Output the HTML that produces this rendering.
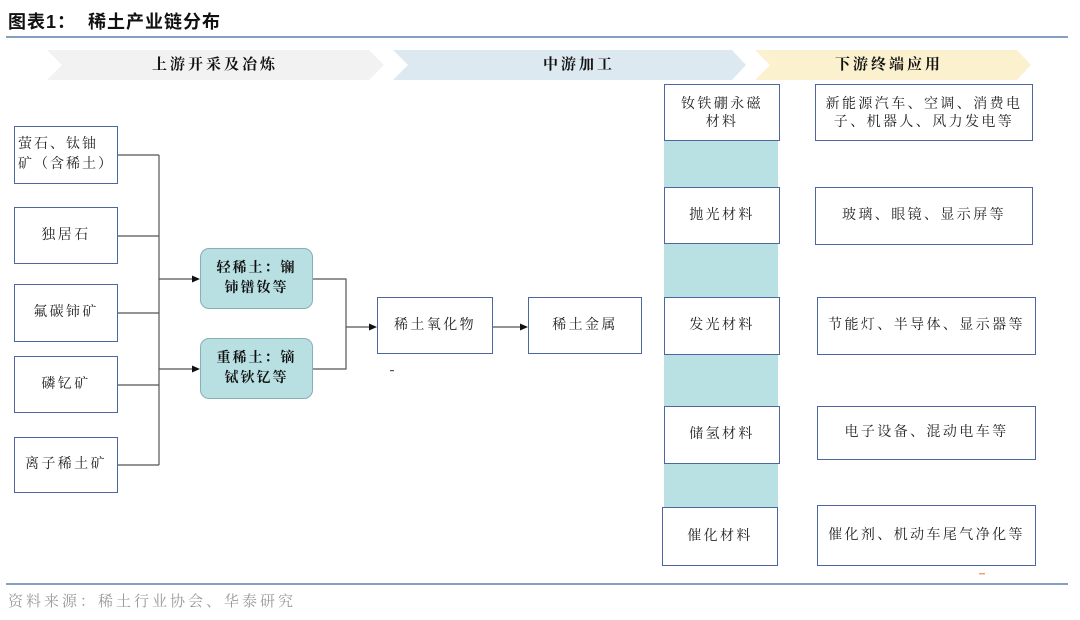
<!DOCTYPE html>
<html><head><meta charset="utf-8">
<style>
*{margin:0;padding:0;box-sizing:border-box}
body{width:1080px;height:620px;background:#fff;position:relative;overflow:hidden;font-family:"Liberation Serif","Noto Serif CJK SC",serif;color:#222}
.t{position:absolute;left:8px;top:9px;font-family:"Liberation Sans","Noto Sans CJK SC",sans-serif;font-weight:bold;font-size:18px;line-height:26px;color:#111;letter-spacing:1px;white-space:nowrap}
.hl{position:absolute;left:6px;width:1062px;height:2px;background:#86a0c2}
.b{position:absolute;border:1.5px solid #4d66a0;background:#fff;display:flex;align-items:center;justify-content:center;text-align:center;font-size:14px;line-height:18px;letter-spacing:2.4px;color:#222}
.tb{position:absolute;border:1.5px solid #86b0b5;background:#b8dfe2;border-radius:9px;display:flex;align-items:center;justify-content:center;text-align:center;font-size:14px;font-weight:bold;line-height:20px;letter-spacing:2px;color:#111}
.ct{position:absolute;font-size:15px;font-weight:bold;letter-spacing:3px;line-height:20px;top:55px;color:#111;white-space:nowrap}
.src{position:absolute;left:8px;top:590px;font-size:15px;color:#9a9a9a;letter-spacing:3px;white-space:nowrap}
</style></head><body>
<div class="t">图表1：&nbsp;&nbsp;稀土产业链分布</div>
<div class="hl" style="top:36px"></div>

<svg width="1080" height="620" style="position:absolute;left:0;top:0">
  <polygon points="47,50 369,50 384,65 369,80 47,80 62,65" fill="#f2f2f2"/>
  <polygon points="393,50 732,50 746,65 732,80 393,80 408,65" fill="#dde9f0"/>
  <polygon points="755,50 1017,50 1031,65 1017,80 755,80 770,65" fill="#fcf1cf"/>
  <rect x="664" y="141" width="114" height="367" fill="#b9e0e3"/>
  <g stroke="#555" stroke-width="1.2" fill="none">
    <path d="M118,155 H159 M118,236 H159 M118,313 H159 M118,385 H159 M118,465 H159 M159,155 V465"/>
    <path d="M159,279 H193 M159,369 H193"/>
    <path d="M313,279 H346 V369 H313 M346,327 H370"/>
    <path d="M493,327 H520"/>
  </g>
  <g fill="#111">
    <polygon points="200,279 192,275.5 192,282.5"/>
    <polygon points="200,369 192,365.5 192,372.5"/>
    <polygon points="377,327 369,323.5 369,330.5"/>
    <polygon points="528,327 520,323.5 520,330.5"/>
  </g>
  <rect x="390" y="370" width="4" height="1.2" fill="#555"/>
  <rect x="979" y="573" width="6" height="1.5" fill="#f4a070"/>
</svg>

<div class="ct" style="left:152px">上游开采及冶炼</div>
<div class="ct" style="left:543px">中游加工</div>
<div class="ct" style="left:835px">下游终端应用</div>

<div class="b" style="left:14px;top:126px;width:104px;height:58px;justify-content:flex-start;text-align:left;padding-left:3px;letter-spacing:2px;line-height:20px">萤石、钛铀<br>矿（含稀土）</div>
<div class="b" style="left:14px;top:207px;width:104px;height:57px">独居石</div>
<div class="b" style="left:14px;top:284px;width:104px;height:58px">氟碳铈矿</div>
<div class="b" style="left:14px;top:356px;width:104px;height:57px">磷钇矿</div>
<div class="b" style="left:14px;top:437px;width:104px;height:56px">离子稀土矿</div>

<div class="tb" style="left:200px;top:248px;width:113px;height:61px">轻稀土：镧<br>铈镨钕等</div>
<div class="tb" style="left:200px;top:338px;width:113px;height:61px">重稀土：镝<br>铽钬钇等</div>

<div class="b" style="left:377px;top:297px;width:116px;height:57px">稀土氧化物</div>
<div class="b" style="left:528px;top:297px;width:114px;height:57px">稀土金属</div>

<div class="b" style="left:664px;top:84px;width:116px;height:57px;padding-top:3px">钕铁硼永磁<br>材料</div>
<div class="b" style="left:664px;top:187px;width:116px;height:57px">抛光材料</div>
<div class="b" style="left:664px;top:297px;width:116px;height:58px">发光材料</div>
<div class="b" style="left:664px;top:406px;width:116px;height:58px">储氢材料</div>
<div class="b" style="left:662px;top:507px;width:116px;height:59px">催化材料</div>

<div class="b" style="left:815px;top:84px;width:218px;height:57px;padding-top:3px">新能源汽车、空调、消费电<br>子、机器人、风力发电等</div>
<div class="b" style="left:815px;top:187px;width:218px;height:58px">玻璃、眼镜、显示屏等</div>
<div class="b" style="left:817px;top:297px;width:219px;height:58px">节能灯、半导体、显示器等</div>
<div class="b" style="left:817px;top:406px;width:219px;height:54px">电子设备、混动电车等</div>
<div class="b" style="left:817px;top:505px;width:219px;height:61px">催化剂、机动车尾气净化等</div>

<div class="hl" style="top:583px"></div>
<div class="src">资料来源：稀土行业协会、华泰研究</div>
</body></html>
